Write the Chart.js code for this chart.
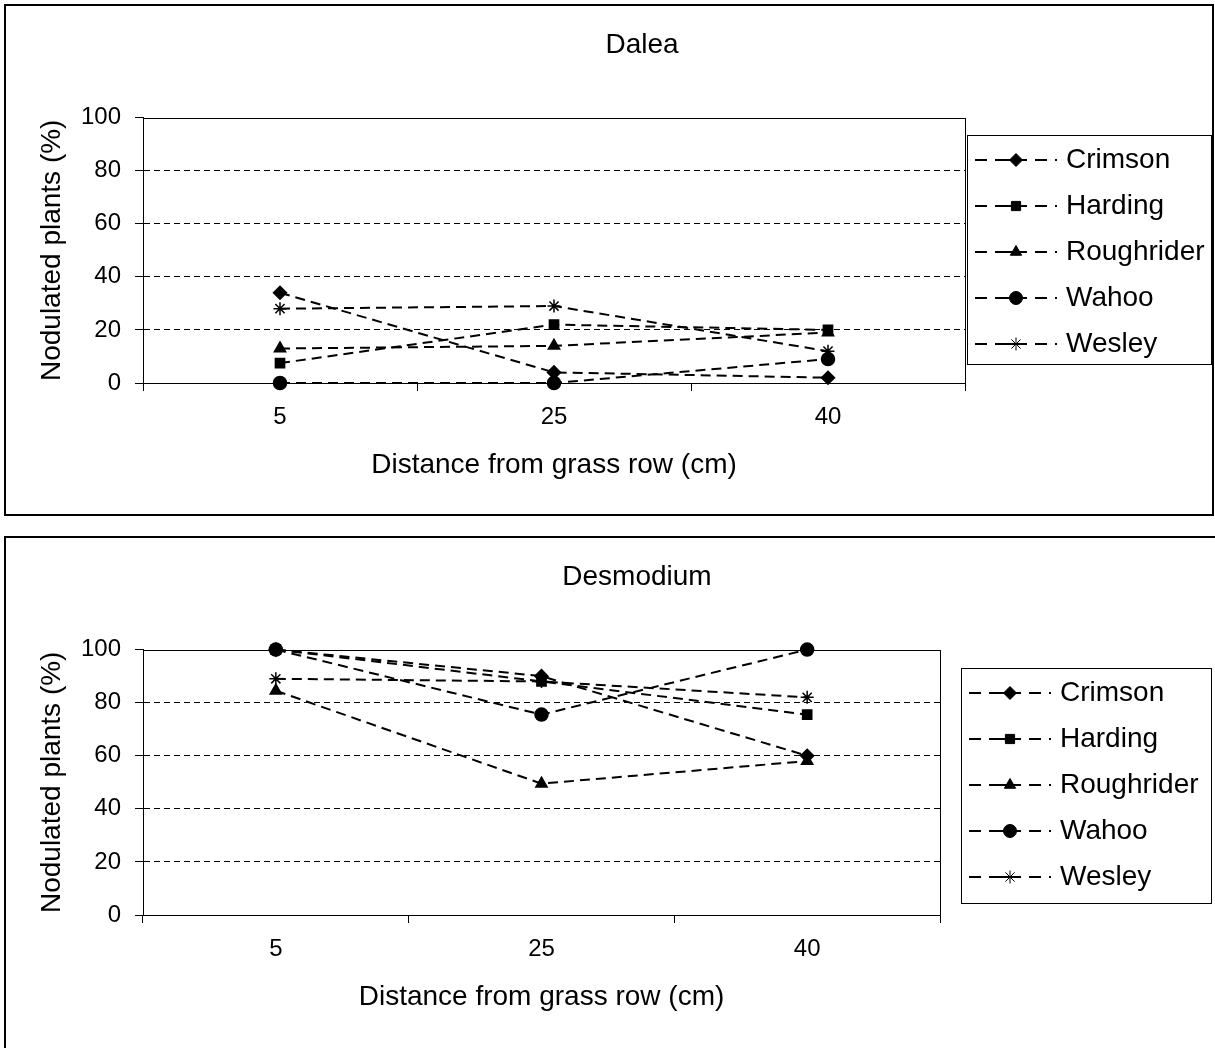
<!DOCTYPE html>
<html>
<head>
<meta charset="utf-8">
<script src="https://cdn.jsdelivr.net/npm/chart.js@4.4.0/dist/chart.umd.min.js"></script>
<style>
  html, body { margin: 0; background: #fff; overflow: hidden; }
  .panel { position: absolute; left: 4px; width: 1206px; height: 508px; border: 2px solid #000; background: #fff; }
  #p1 { top: 4px; }
  #p2 { top: 536px; width: 1230px; height: 540px; }
</style>
</head>
<body>
<div class="panel" id="p1"><canvas id="dalea" width="1206" height="508"></canvas></div>
<div class="panel" id="p2"><canvas id="desmodium" width="1206" height="508"></canvas></div>
<script>
// distances from grass row (cm)
const distances = ['5', '25', '40'];
const cultivars = ['Crimson', 'Harding', 'Roughrider', 'Wahoo', 'Wesley'];
const markers = ['rectRot', 'rect', 'triangle', 'circle', 'star'];
const yTicks = [0, 20, 40, 60, 80, 100];

// Dalea - nodulated plants (%)
const daleaCrimson = [34, 4, 2];
const daleaHarding = [7.5, 22, 20];
const daleaRoughrider = [13, 14, 19];
const daleaWahoo = [0, 0, 9];
const daleaWesley = [28, 29, 12];

// Desmodium - nodulated plants (%)
const desmCrimson = [100, 90, 60];
const desmHarding = [100, 88, 75.5];
const desmRoughrider = [84.5, 49.5, 58];
const desmWahoo = [100, 75.5, 100];
const desmWesley = [89, 88, 82];

Chart.defaults.font.family = '"Liberation Sans", Arial, sans-serif';
Chart.defaults.color = '#000';

const FONT = '"Liberation Sans", Arial, sans-serif';

// black frame around the plot area
const plotFrame = {
  id: 'plotFrame',
  beforeDatasetsDraw(chart) {
    const { ctx, chartArea: a } = chart;
    ctx.save();
    ctx.strokeStyle = '#000';
    ctx.lineWidth = 1;
    ctx.strokeRect(Math.round(a.left) + 0.5, Math.round(a.top) + 0.5,
      Math.round(a.right - a.left), Math.round(a.bottom - a.top));
    ctx.restore();
  }
};

// centre the chart title over a given x, like the Excel original
const titlePos = {
  id: 'titlePos',
  afterLayout(chart, args, opts) {
    const tb = chart.titleBlock;
    if (tb) {
      tb.left = 0;
      tb.right = opts.center * 2;
    }
  }
};

// Excel-like boxed legend to the right of the plot
const boxLegend = {
  id: 'boxLegend',
  afterDraw(chart, args, opts) {
    const ctx = chart.ctx;
    ctx.save();
    ctx.strokeStyle = '#000';
    ctx.fillStyle = '#000';
    ctx.lineWidth = 1;
    ctx.strokeRect(opts.x + 0.5, opts.y + 0.5, opts.w, opts.h);
    ctx.font = '28px ' + FONT;
    ctx.textBaseline = 'middle';
    chart.data.datasets.forEach((ds, i) => {
      const cy = opts.y + 25 + i * 46;
      const x0 = opts.x + 8, x1 = opts.x + 90;
      ctx.lineWidth = ds.borderWidth;
      ctx.setLineDash([12, 8]);
      ctx.beginPath();
      ctx.moveTo(x0, cy);
      ctx.lineTo(x1, cy);
      ctx.stroke();
      ctx.setLineDash([]);
      ctx.beginPath();
      ctx.moveTo(x0 + 30, cy);
      ctx.lineTo(x1 - 30, cy);
      ctx.stroke();
      ctx.lineWidth = 1;
      Chart.helpers.drawPoint(ctx, {
        pointStyle: ds.pointStyle, radius: ds.pointRadius, borderWidth: 1.5, rotation: 0
      }, (x0 + x1) / 2, cy);
      ctx.fillText(ds.label, opts.x + 99, cy);
    });
    ctx.restore();
  }
};

function makeChart(id, title, series, rightPad, titleCenter, legendBox) {
  const datasets = cultivars.map((name, i) => ({
    label: name,
    data: series[i],
    borderColor: '#000',
    backgroundColor: '#000',
    borderWidth: 2,
    borderDash: [10, 6],
    pointStyle: markers[i],
    pointRadius: 6.5,
    pointBorderWidth: 1.5,
    tension: 0,
    clip: false
  }));

  return new Chart(document.getElementById(id), {
    type: 'line',
    data: { labels: distances, datasets },
    options: {
      responsive: false,
      animation: false,
      layout: { padding: { left: 0, right: rightPad, bottom: 0, top: 0 } },
      plugins: {
        legend: { display: false },
        tooltip: { enabled: false },
        title: {
          display: true,
          text: title,
          font: { size: 28, weight: 'normal' },
          padding: { top: 22, bottom: 56 }
        },
        titlePos: { center: titleCenter },
        boxLegend: legendBox
      },
      scales: {
        x: {
          offset: true,
          grid: { drawOnChartArea: false, drawTicks: true, tickLength: 8, color: '#000', offset: true },
          border: { color: '#000', width: 1 },
          ticks: { font: { size: 24 }, padding: 12, maxRotation: 0 },
          title: {
            display: true,
            text: 'Distance from grass row (cm)',
            font: { size: 28 },
            padding: { top: 0, bottom: 32 }
          },
          afterFit: s => { s.height = 131; }
        },
        y: {
          min: 0,
          max: 100,
          afterBuildTicks: s => { s.ticks = yTicks.map(v => ({ value: v })); },
          grid: {
            color: c => (c.tick && c.tick.value === 100) ? 'rgba(0,0,0,0)' : '#000',
            tickColor: '#000',
            lineWidth: 1,
            tickLength: 8,
            drawTicks: true
          },
          border: { color: '#000', width: 1, dash: [6, 4] },
          ticks: { font: { size: 24 }, padding: 14 },
          title: {
            display: true,
            text: 'Nodulated plants (%)',
            font: { size: 28 },
            padding: { top: 29, bottom: 0 }
          },
          afterFit: s => { s.width = 137; }
        }
      }
    },
    plugins: [plotFrame, titlePos, boxLegend]
  });
}

makeChart('dalea', 'Dalea',
  [daleaCrimson, daleaHarding, daleaRoughrider, daleaWahoo, daleaWesley],
  247, 636, { x: 961, y: 129, w: 244, h: 229 });

makeChart('desmodium', 'Desmodium',
  [desmCrimson, desmHarding, desmRoughrider, desmWahoo, desmWesley],
  272, 631, { x: 955, y: 130, w: 250, h: 235 });
</script>
</body>
</html>
